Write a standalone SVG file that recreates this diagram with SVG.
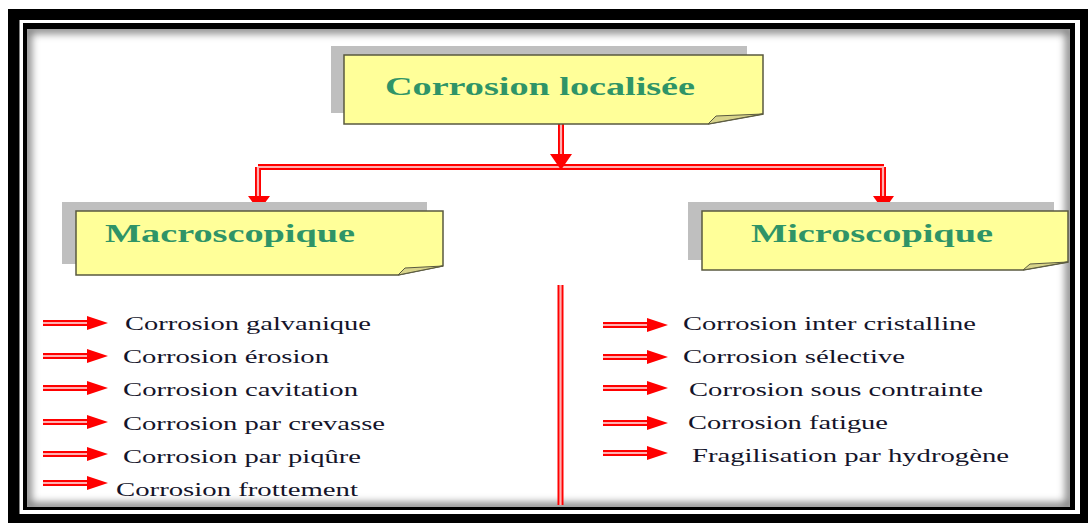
<svg xmlns="http://www.w3.org/2000/svg" width="1088" height="523" viewBox="0 0 1088 523">
<style>
.title{font-family:"Liberation Serif","Times New Roman",serif;font-weight:bold;font-size:25px;fill:#2f9467}
.item{font-family:"Liberation Serif","Times New Roman",serif;font-size:19px;fill:#14142a}
.box{fill:#ffff99;stroke:#5a5a40;stroke-width:1.5}
.shadow{fill:#bfbfbf}
.fold{fill:#d8d48a;stroke:#5a5a40;stroke-width:1}
.dl-out{fill:none;stroke:#ff0000;stroke-width:6}
.dl-in{fill:none;stroke:#ffb0b0;stroke-width:2.2}
.head{fill:#ff0000}
</style>
<defs>
<clipPath id="inner"><rect x="27" y="29" width="1043" height="478"/></clipPath>
<filter id="blur" x="-5%" y="-5%" width="110%" height="110%"><feGaussianBlur stdDeviation="4"/></filter>
<g id="arrowR">
<line x1="0" y1="0" x2="46" y2="0" class="dl-out"/>
<line x1="0" y1="0" x2="46" y2="0" class="dl-in"/>
<polygon points="44,-7 65,0 44,7" class="head"/>
</g>
</defs>
<!-- frame -->
<rect x="8" y="9" width="1080" height="514" fill="#000"/>
<rect x="19.5" y="20" width="1060.5" height="494" fill="#fff"/>
<rect x="23" y="23" width="1052" height="487" fill="#000"/>
<rect x="27" y="29" width="1043" height="478" fill="#fff"/>
<g clip-path="url(#inner)">
<rect x="27" y="29" width="1043" height="478" fill="none" stroke="#000" stroke-width="8" opacity="0.55" filter="url(#blur)"/>
</g>
<!-- connectors -->
<g id="connectors">
<path d="M561,124 V158 M258,167 H884 M258,167 V198 M883,167 V198 M560.5,285 V505" class="dl-out"/>
<path d="M561,124 V158 M258,167 H884 M258,167 V198 M883,167 V198 M560.5,285 V505" class="dl-in"/>
<polygon points="550,154 572,154 561,170" class="head"/>
<polygon points="248,196 270,196 259,211" class="head"/>
<polygon points="873,196 894,196 883.5,211" class="head"/>
</g>
<!-- top node -->
<g id="node-localisee">
<rect x="331" y="46" width="416" height="67" class="shadow"/>
<path d="M344,55 H763 V114 L708,124 H344 Z" class="box"/>
<path d="M708,124 L716,116 L763,114 Z" class="fold"/>
<text x="385" y="95" class="title" textLength="310" lengthAdjust="spacingAndGlyphs">Corrosion localisée</text>
</g>
<g id="node-macro">
<rect x="62" y="202" width="365" height="62" class="shadow"/>
<path d="M76,211 H443 V266 L398,275 H76 Z" class="box"/>
<path d="M398,275 L405,268 L443,266 Z" class="fold"/>
<text x="105" y="242" class="title" textLength="250" lengthAdjust="spacingAndGlyphs">Macroscopique</text>
</g>
<g id="node-micro">
<rect x="688" y="202" width="366" height="58" class="shadow"/>
<path d="M702,211 H1068 V262 L1023,270 H702 Z" class="box"/>
<path d="M1023,270 L1030,264 L1068,262 Z" class="fold"/>
<text x="751" y="242" class="title" textLength="242" lengthAdjust="spacingAndGlyphs">Microscopique</text>
</g>
<!-- macro list -->
<g id="macro-list">
<use href="#arrowR" x="43" y="323"/>
<use href="#arrowR" x="43" y="356"/>
<use href="#arrowR" x="43" y="388"/>
<use href="#arrowR" x="43" y="422"/>
<use href="#arrowR" x="43" y="454"/>
<use href="#arrowR" x="43" y="483"/>
<text x="125" y="330" class="item" textLength="246" lengthAdjust="spacingAndGlyphs">Corrosion galvanique</text>
<text x="123" y="363" class="item" textLength="206" lengthAdjust="spacingAndGlyphs">Corrosion érosion</text>
<text x="123" y="396" class="item" textLength="235" lengthAdjust="spacingAndGlyphs">Corrosion cavitation</text>
<text x="123" y="430" class="item" textLength="262" lengthAdjust="spacingAndGlyphs">Corrosion par crevasse</text>
<text x="123" y="463" class="item" textLength="238" lengthAdjust="spacingAndGlyphs">Corrosion par piqûre</text>
<text x="116" y="496" class="item" textLength="242" lengthAdjust="spacingAndGlyphs">Corrosion frottement</text>
</g>
<!-- micro list -->
<g id="micro-list">
<use href="#arrowR" x="603" y="325"/>
<use href="#arrowR" x="603" y="357"/>
<use href="#arrowR" x="603" y="388"/>
<use href="#arrowR" x="603" y="423"/>
<use href="#arrowR" x="603" y="453"/>
<text x="683" y="330" class="item" textLength="293" lengthAdjust="spacingAndGlyphs">Corrosion inter cristalline</text>
<text x="683" y="363" class="item" textLength="222" lengthAdjust="spacingAndGlyphs">Corrosion sélective</text>
<text x="689" y="396" class="item" textLength="294" lengthAdjust="spacingAndGlyphs">Corrosion sous contrainte</text>
<text x="688" y="429" class="item" textLength="200" lengthAdjust="spacingAndGlyphs">Corrosion fatigue</text>
<text x="692" y="462" class="item" textLength="317" lengthAdjust="spacingAndGlyphs">Fragilisation par hydrogène</text>
</g>
</svg>
